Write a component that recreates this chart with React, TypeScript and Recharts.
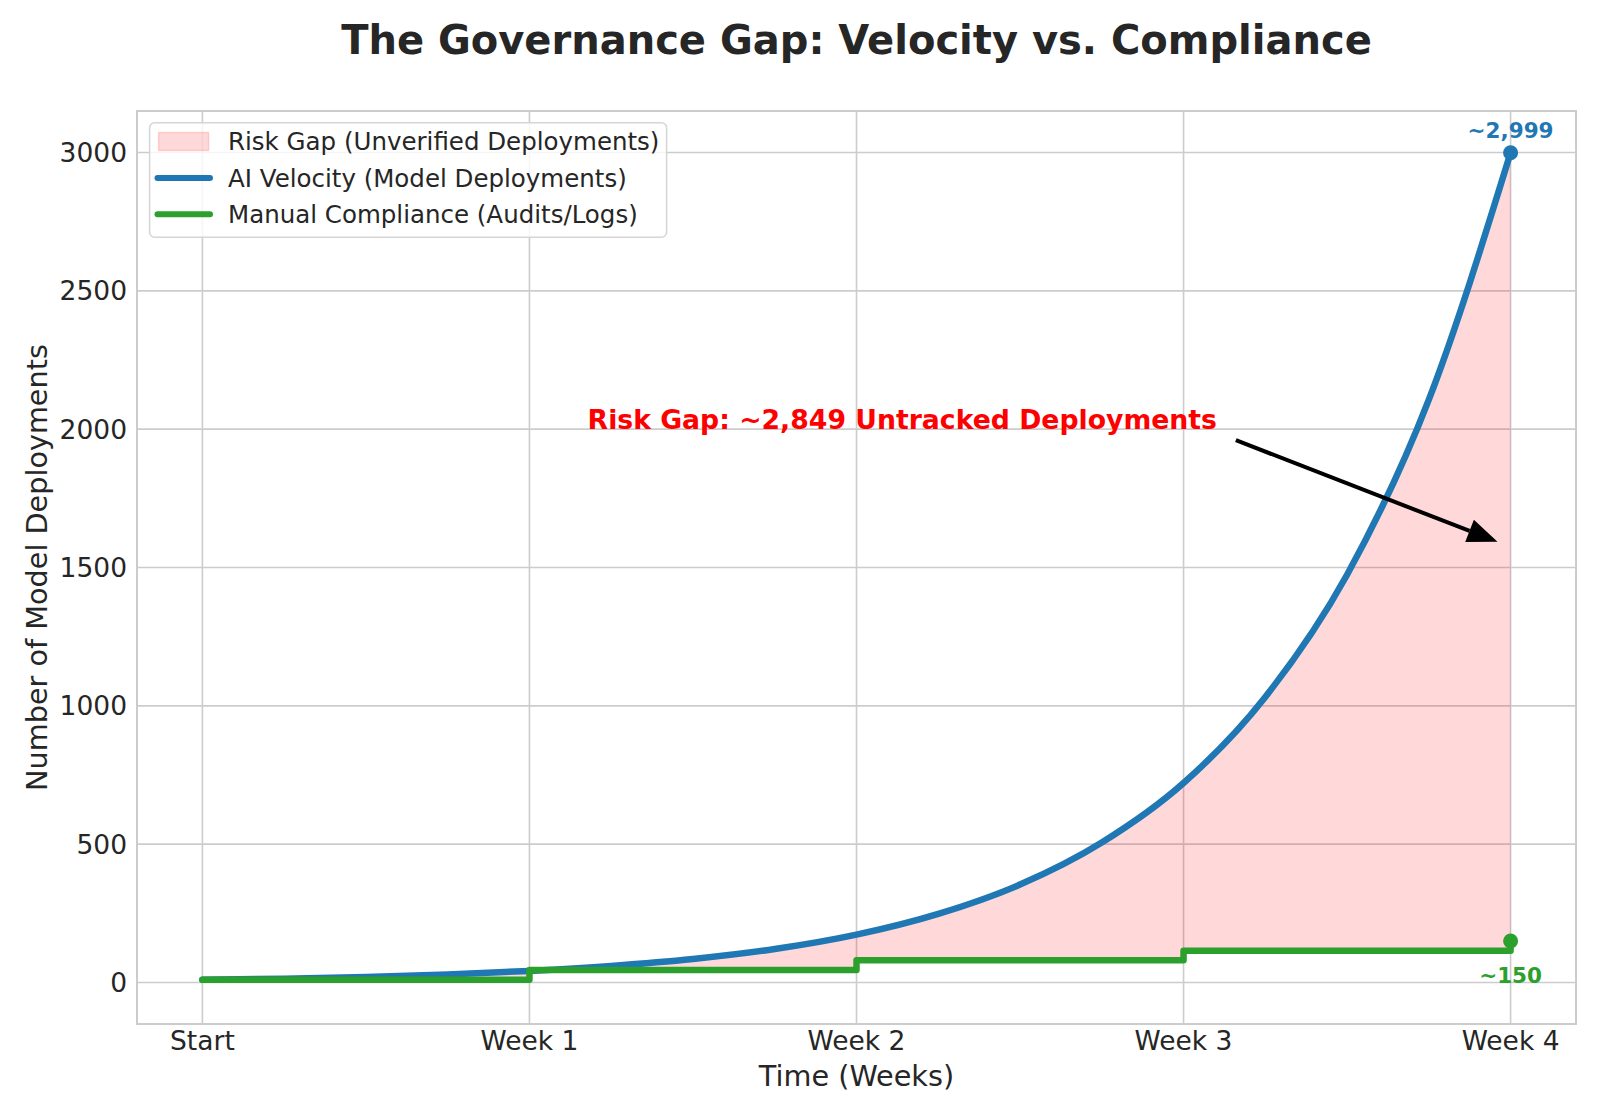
import React from "react";
import {
  ComposedChart,
  Area,
  Line,
  XAxis,
  YAxis,
  CartesianGrid,
  ReferenceArea,
  ReferenceDot,
  ReferenceLine,
} from "recharts";

const weekTicks = [0, 1, 2, 3, 4];
const weekLabels = ["Start", "Week 1", "Week 2", "Week 3", "Week 4"];
const yTicks = [0, 500, 1000, 1500, 2000, 2500, 3000];
const xDomain = [-0.2, 4.2];
const yDomain = [-150, 3150];

// AI velocity, every quarter week
const velocityWeeks = [0, 0.25, 0.5, 0.75, 1, 1.25, 1.5, 1.75, 2, 2.25, 2.5, 2.75, 3, 3.25, 3.5, 3.75, 4];
const velocity = [10, 14, 20, 29, 42, 60, 85, 121, 173, 248, 354, 506, 721, 1032, 1474, 2107, 2999];

// manual compliance, one level per week
const complianceWeeks = [0, 1, 2, 3, 4];
const compliance = [10, 45, 80, 115, 150];

// annotation anchors (data coords)
const gapText = { x: 2.14, y: 2000 };
const arrowFrom = { x: 3.16, y: 1960 };
const arrowTo = { x: 3.96, y: 1593 };

const BLUE = "#1f77b4";
const GREEN = "#2ca02c";
const TEXT = "#262626";
const FONT = "DejaVu Sans, Verdana, sans-serif";

const velocityRows = velocityWeeks.map((x, i) => ({ x, v: velocity[i] }));
const complianceRows = complianceWeeks.map((x, i) => ({ x, c: compliance[i] }));

// fill between velocity and the compliance step
const fillRows: { x: number; range: number[] }[] = [];
velocityWeeks.forEach((x, i) => {
  let j = 0;
  complianceWeeks.forEach((w, k) => {
    if (w <= x) j = k;
  });
  if (j > 0 && complianceWeeks[j] === x) {
    fillRows.push({ x, range: [compliance[j - 1], velocity[i]] });
  }
  fillRows.push({ x, range: [compliance[j], velocity[i]] });
});

const last = velocity.length - 1;
const lastC = compliance.length - 1;

const XTick = (props: any) => {
  const { x, y, payload } = props;
  return (
    <text x={x} y={y + 25.5} textAnchor="middle" fontSize={26.5} fontFamily={FONT} fill={TEXT}>
      {weekLabels[weekTicks.indexOf(payload.value)]}
    </text>
  );
};

const YTick = (props: any) => {
  const { x, y, payload } = props;
  return (
    <text x={x - 10} y={y + 9.6} textAnchor="end" fontSize={26.5} fontFamily={FONT} fill={TEXT}>
      {payload.value}
    </text>
  );
};

const Arrow = (props: any) => {
  const { x1, y1, x2, y2 } = props;
  const dx = x2 - x1;
  const dy = y2 - y1;
  const len = Math.hypot(dx, dy);
  const ux = dx / len;
  const uy = dy / len;
  const headLen = 30;
  const headHalf = 12;
  const bx = x2 - ux * headLen;
  const by = y2 - uy * headLen;
  const pts = `${x2},${y2} ${bx - uy * headHalf},${by + ux * headHalf} ${bx + uy * headHalf},${by - ux * headHalf}`;
  return (
    <g>
      <line x1={x1} y1={y1} x2={bx} y2={by} stroke="#000" strokeWidth={4} />
      <polygon points={pts} fill="#000" />
    </g>
  );
};

export default function App() {
  return (
    <div style={{ position: "absolute", left: 0, top: 0, width: 1600, height: 1120, background: "#fff" }}>
      <ComposedChart
        width={1600}
        height={1120}
        margin={{ top: 111, right: 24, bottom: 36, left: 77 }}
      >
        <CartesianGrid stroke="#cccccc" strokeWidth={1.6} />
        <XAxis
          type="number"
          dataKey="x"
          domain={xDomain}
          ticks={weekTicks}
          allowDataOverflow
          axisLine={false}
          tickLine={false}
          tickSize={0}
          tickMargin={0}
          height={60}
          tick={<XTick />}
          interval={0}
        />
        <YAxis
          type="number"
          domain={yDomain}
          ticks={yTicks}
          allowDataOverflow
          axisLine={false}
          tickLine={false}
          tickSize={0}
          tickMargin={0}
          width={60}
          tick={<YTick />}
          interval={0}
        />
        <ReferenceArea
          x1={xDomain[0]}
          x2={xDomain[1]}
          y1={yDomain[0]}
          y2={yDomain[1]}
          fill="none"
          stroke="#cccccc"
          strokeWidth={2}
          ifOverflow="visible"
        />
        <Area
          data={fillRows}
          dataKey="range"
          type="linear"
          fill="#ff0000"
          fillOpacity={0.15}
          stroke="none"
          dot={false}
          activeDot={false}
          isAnimationActive={false}
        />
        <Line
          data={velocityRows}
          dataKey="v"
          type="monotone"
          stroke={BLUE}
          strokeWidth={6.5}
          strokeLinecap="round"
          dot={false}
          activeDot={false}
          isAnimationActive={false}
        />
        <Line
          data={complianceRows}
          dataKey="c"
          type="stepAfter"
          stroke={GREEN}
          strokeWidth={6.5}
          strokeLinecap="round"
          strokeLinejoin="round"
          dot={false}
          activeDot={false}
          isAnimationActive={false}
        />
        <ReferenceDot
          x={velocityWeeks[last]}
          y={velocity[last]}
          ifOverflow="visible"
          shape={(p: any) => (
            <g>
              <circle cx={p.cx} cy={p.cy} r={7.5} fill={BLUE} />
              <text x={p.cx} y={p.cy - 14.7} textAnchor="middle" fontSize={21.5} fontWeight="bold" fontFamily={FONT} fill={BLUE}>
                ~2,999
              </text>
            </g>
          )}
        />
        <ReferenceDot
          x={complianceWeeks[lastC]}
          y={compliance[lastC]}
          ifOverflow="visible"
          shape={(p: any) => (
            <g>
              <circle cx={p.cx} cy={p.cy} r={7.5} fill={GREEN} />
              <text x={p.cx} y={p.cy + 41.6} textAnchor="middle" fontSize={21.5} fontWeight="bold" fontFamily={FONT} fill={GREEN}>
                ~150
              </text>
            </g>
          )}
        />
        <ReferenceLine
          segment={[arrowFrom, arrowTo]}
          ifOverflow="visible"
          shape={<Arrow />}
        />
        <ReferenceDot
          x={gapText.x}
          y={gapText.y}
          ifOverflow="visible"
          shape={(p: any) => (
            <text x={p.cx} y={p.cy} textAnchor="middle" fontSize={26.7} fontWeight="bold" fontFamily={FONT} fill="#ff0000">
              Risk Gap: ~2,849 Untracked Deployments
            </text>
          )}
        />
      </ComposedChart>
      <svg
        width={1600}
        height={1120}
        style={{ position: "absolute", left: 0, top: 0, pointerEvents: "none" }}
        fontFamily={FONT}
      >
        <text x={856.5} y={54} textAnchor="middle" fontSize={40} fontWeight="bold" fill={TEXT}>
          The Governance Gap: Velocity vs. Compliance
        </text>
        <text x={856.5} y={1085.7} textAnchor="middle" fontSize={28.7} fill={TEXT}>
          Time (Weeks)
        </text>
        <text x={46.7} y={567.5} textAnchor="middle" fontSize={28.7} fill={TEXT} transform="rotate(-90 46.7 567.5)">
          Number of Model Deployments
        </text>
        <g>
          <rect x={149.6} y={122.7} width={517} height={114.6} rx={5} fill="#ffffff" fillOpacity={0.8} stroke="#d5d5d5" strokeWidth={1.5} />
          <rect x={158.6} y={132.5} width={50} height={18} fill="#ff0000" fillOpacity={0.15} stroke="#ff0000" strokeOpacity={0.15} strokeWidth={1.5} />
          <text x={228} y={150.2} fontSize={24.5} fill={TEXT}>Risk Gap (Unverified Deployments)</text>
          <line x1={157.5} y1={178} x2={210} y2={178} stroke={BLUE} strokeWidth={6} strokeLinecap="round" />
          <text x={228} y={186.9} fontSize={24.5} fill={TEXT}>AI Velocity (Model Deployments)</text>
          <line x1={157.5} y1={214.3} x2={210} y2={214.3} stroke={GREEN} strokeWidth={6} strokeLinecap="round" />
          <text x={228} y={223.2} fontSize={24.5} fill={TEXT}>Manual Compliance (Audits/Logs)</text>
        </g>
      </svg>
    </div>
  );
}
